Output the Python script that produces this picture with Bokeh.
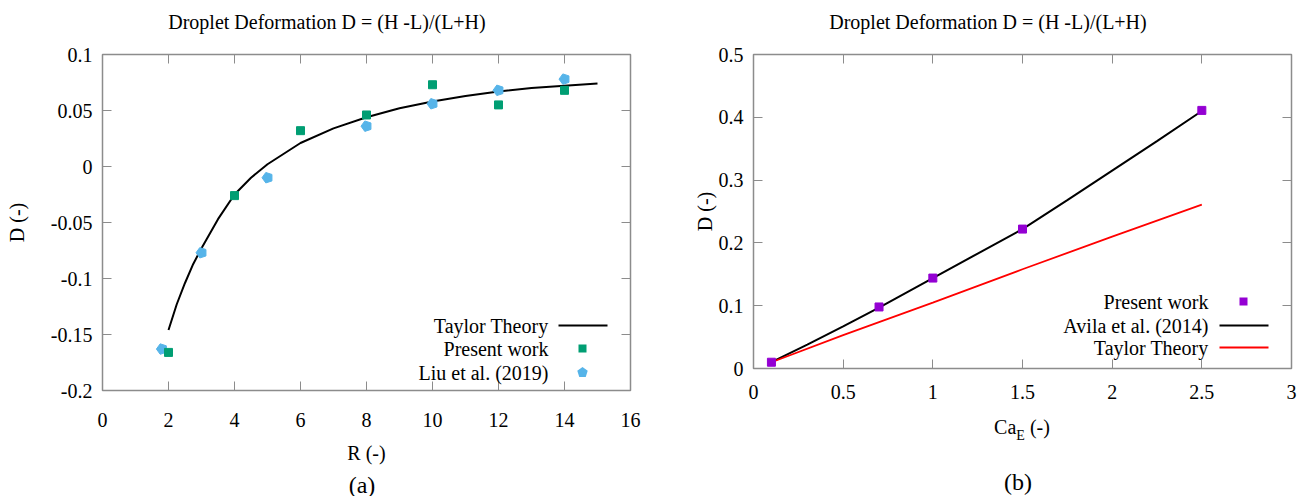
import math
from bokeh.plotting import figure
from bokeh.layouts import row, column
from bokeh.models import (Range1d, FixedTicker, LinearAxis, Label, BoxAnnotation,
                          PolyAnnotation, Div)
from bokeh.embed import file_html
from bokeh.resources import INLINE

# ---------------- data: panel (a) ----------------
taylor_a_R = [2.0, 2.25, 2.5, 2.75, 3.0, 3.5, 4.0, 4.5, 5.0, 6.0, 7.0, 8.0, 9.0,
              10.0, 11.0, 12.0, 13.0, 14.0, 15.0]
taylor_a_D = [-0.146, -0.123, -0.104, -0.087, -0.073, -0.047, -0.025, -0.010, 0.002,
              0.021, 0.034, 0.044, 0.052, 0.058, 0.063, 0.067, 0.070, 0.072, 0.074]
present_a_R = [2, 4, 6, 8, 10, 12, 14]
present_a_D = [-0.166, -0.026, 0.032, 0.046, 0.073, 0.055, 0.068]
liu_R = [1.8, 3, 5, 8, 10, 12, 14]
liu_D = [-0.163, -0.077, -0.010, 0.036, 0.056, 0.068, 0.078]

# ---------------- data: panel (b) ----------------
present_b_Ca = [0.1, 0.7, 1.0, 1.5, 2.5]
present_b_D = [0.010, 0.098, 0.144, 0.222, 0.411]
avila_Ca = [0.1, 0.3, 0.5, 0.7, 1.0, 1.25, 1.5, 1.75, 2.0, 2.25, 2.5]
avila_D = [0.010, 0.038, 0.067, 0.097, 0.144, 0.183, 0.222, 0.268, 0.315, 0.362, 0.410]
taylor_b_Ca = [0.1, 0.5, 1.0, 1.5, 2.0, 2.5]
taylor_b_D = [0.010, 0.053, 0.105, 0.158, 0.210, 0.261]

# ---------------- ticks ----------------
xticks_a = [0, 2, 4, 6, 8, 10, 12, 14, 16]
xlabels_a = ["0", "2", "4", "6", "8", "10", "12", "14", "16"]
yticks_a = [-0.2, -0.15, -0.1, -0.05, 0, 0.05, 0.1]
ylabels_a = ["-0.2", "-0.15", "-0.1", "-0.05", "0", "0.05", "0.1"]
xticks_b = [0, 0.5, 1, 1.5, 2, 2.5, 3]
xlabels_b = ["0", "0.5", "1", "1.5", "2", "2.5", "3"]
yticks_b = [0, 0.1, 0.2, 0.3, 0.4, 0.5]
ylabels_b = ["0", "0.1", "0.2", "0.3", "0.4", "0.5"]

TITLE = "Droplet Deformation D = (H -L)/(L+H)"
FONT = "Liberation Serif"
FRAME = "#8c8c8c"
GREEN = "#009e73"
BLUE = "#56b4e9"
PURPLE = "#9400d3"
RED = "#ff0000"


def style(p, xt, xl, yt, yl):
    p.xgrid.visible = False
    p.ygrid.visible = False
    p.outline_line_color = FRAME
    p.outline_line_width = 1.5
    xa = p.xaxis[0]
    ya = p.yaxis[0]
    for ax, t, l in [(xa, xt, xl), (ya, yt, yl)]:
        ax.ticker = FixedTicker(ticks=t)
        ax.major_label_overrides = dict(zip(t, l))
        ax.major_tick_in = 9
        ax.major_tick_out = 0
        ax.minor_tick_line_color = None
        ax.axis_line_color = FRAME
        ax.major_tick_line_color = FRAME
        ax.major_label_text_font = FONT
        ax.major_label_text_font_size = "20px"
        ax.major_label_text_color = "black"
        ax.axis_label_text_font = FONT
        ax.axis_label_text_font_size = "20px"
        ax.axis_label_text_font_style = "normal"
        ax.axis_label_text_color = "black"
    ya.major_label_standoff = 10
    for side, t in [("above", xt), ("right", yt)]:
        ax = LinearAxis(ticker=FixedTicker(ticks=t),
                        major_label_overrides={v: "" for v in t})
        ax.major_tick_in = 9
        ax.major_tick_out = 0
        ax.minor_tick_line_color = None
        ax.axis_line_color = FRAME
        ax.major_tick_line_color = FRAME
        ax.major_label_standoff = 0
        ax.major_label_text_font_size = "1px"
        p.add_layout(ax, side)
    return xa, ya


def lab(p, x, y, text, align="right"):
    p.add_layout(Label(x=x, y=y, x_units="screen", y_units="screen", text=text,
                       text_align=align, text_baseline="middle", text_font=FONT,
                       text_font_size="20px", text_color="black"))


def box(p, l, r, b, t, color):
    p.add_layout(BoxAnnotation(left=l, right=r, bottom=b, top=t,
                               left_units="screen", right_units="screen",
                               bottom_units="screen", top_units="screen",
                               fill_color=color, fill_alpha=1.0, line_color=None))


def div(html, width, height):
    return Div(text=html, width=width, height=height, margin=0)


def title_div(center):
    return div(
        '<div style="position:relative;width:654px;height:44px;'
        'font-family:\'Liberation Serif\';color:black;">'
        f'<div style="position:absolute;left:{center - 250}px;width:500px;top:10px;'
        'text-align:center;font-size:20px;line-height:24px;white-space:nowrap;">'
        f'{TITLE}</div></div>', 654, 44)


# ---------------- panel (a) ----------------
pa = figure(width=654, height=430, x_range=Range1d(0, 16), y_range=Range1d(-0.2, 0.1),
            output_backend="svg", toolbar_location=None,
            min_border_left=102, min_border_right=24, min_border_top=10,
            min_border_bottom=84)
xa_a, ya_a = style(pa, xticks_a, xlabels_a, yticks_a, ylabels_a)
xa_a.major_label_standoff = 22
xa_a.axis_label = "R (-)"
xa_a.axis_label_standoff = 12
ya_a.axis_label = "D (-)"
ya_a.axis_label_standoff = 20

pa.line(taylor_a_R, taylor_a_D, line_color="black", line_width=2)
pa.ngon(x=liu_R, y=liu_D, radius=5.5, radius_units="screen", n=5, angle=math.pi / 2,
        fill_color=BLUE, line_color=BLUE)
pa.scatter(present_a_R, present_a_D, marker="square", size=8, fill_color=GREEN,
           line_color=GREEN)

# legend (gnuplot style: text left of key)
lab(pa, 446, 65, "Taylor Theory")
box(pa, 456, 505, 64, 66, "black")
lab(pa, 446, 42, "Present work")
box(pa, 476, 484, 38, 46, GREEN)
lab(pa, 446, 18, "Liu et al. (2019)")
pent_x = [480 + 5.5 * math.cos(math.pi / 2 + k * 2 * math.pi / 5) for k in range(5)]
pent_y = [18 + 5.5 * math.sin(math.pi / 2 + k * 2 * math.pi / 5) for k in range(5)]
pa.add_layout(PolyAnnotation(xs=pent_x, ys=pent_y, xs_units="screen", ys_units="screen",
                             fill_color=BLUE, fill_alpha=1.0, line_color=None))

cap_a = div(
    '<div style="position:relative;width:654px;height:21px;'
    'font-family:\'Liberation Serif\';color:black;">'
    '<div style="position:absolute;left:102px;width:520px;top:0px;text-align:center;'
    'font-size:24px;line-height:22px;">(a)</div></div>', 654, 21)

# ---------------- panel (b) ----------------
pb = figure(width=654, height=366, x_range=Range1d(0, 3), y_range=Range1d(0, 0.5),
            output_backend="svg", toolbar_location=None,
            min_border_left=99, min_border_right=17, min_border_top=10,
            min_border_bottom=42)
xa_b, ya_b = style(pb, xticks_b, xlabels_b, yticks_b, ylabels_b)
xa_b.major_label_standoff = 16
ya_b.axis_label = "D (-)"
ya_b.axis_label_standoff = 0

pb.line(avila_Ca, avila_D, line_color="black", line_width=2)
pb.line(taylor_b_Ca, taylor_b_D, line_color=RED, line_width=1.8)
pb.scatter(present_b_Ca, present_b_D, marker="square", size=8, fill_color=PURPLE,
           line_color=PURPLE)

lab(pb, 455, 67, "Present work")
box(pb, 486, 494, 63, 71, PURPLE)
lab(pb, 455, 43, "Avila et al. (2014)")
box(pb, 466, 515, 42, 44, "black")
lab(pb, 455, 21, "Taylor Theory")
box(pb, 466, 515, 20, 22, RED)

cap_b = div(
    '<div style="position:relative;width:654px;height:85px;'
    'font-family:\'Liberation Serif\';color:black;">'
    '<div style="position:absolute;left:99px;width:538px;top:6px;text-align:center;'
    'font-size:20px;line-height:22px;white-space:nowrap;">Ca<span style="font-size:14px;'
    'position:relative;top:6px;">E</span> (-)</div>'
    '<div style="position:absolute;left:99px;width:530px;top:60px;text-align:center;'
    'font-size:24px;line-height:24px;">(b)</div></div>', 654, 85)

layout = row(column(title_div(327), pa, cap_a, spacing=0),
             column(title_div(334), pb, cap_b, spacing=0), spacing=0)
open("out.html", "w").write(file_html(layout, INLINE))
